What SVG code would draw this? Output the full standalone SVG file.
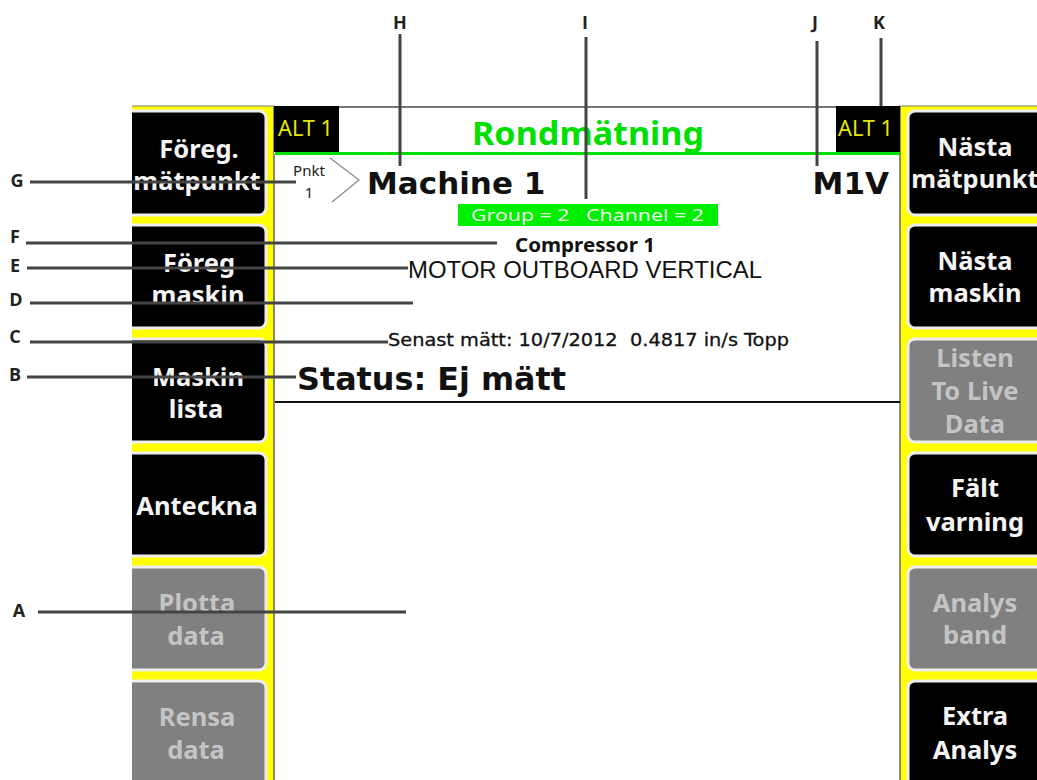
<svg xmlns="http://www.w3.org/2000/svg" width="1037" height="780" viewBox="0 0 1037 780">
<style>
.b{stroke:#eee;stroke-width:3}
.on{fill:#000}
.off{fill:#808080}
text{font-family:"DejaVu Sans",sans-serif}
.bt{font-family:"Noto Sans",sans-serif;font-size:25.500px;font-weight:bold;text-anchor:middle;fill:#f4f4f4}
.bl{font-family:"Noto Sans",sans-serif;font-size:25.500px;font-weight:bold;text-anchor:middle;fill:#c4c4c4}
.lab{font-size:18px;font-weight:bold;fill:#222;text-anchor:middle;font-family:"Open Sans",sans-serif}
.c{stroke:#444;stroke-width:3;fill:none}
.alt{font-size:21px;fill:#e6e600;font-family:"Noto Sans",sans-serif}
</style>
<rect width="1037" height="780" fill="#fff"/>
<g id="frame">
<rect x="132" y="106" width="142" height="674" fill="#ff0"/>
<rect x="900" y="106" width="137" height="674" fill="#ff0"/>
<path d="M132 106H274M899 106H1037" stroke="#777" stroke-width="1"/>
<path d="M274 106V780M900 106V780" stroke="#666" stroke-width="1.500"/>
<rect x="274" y="106" width="626" height="48" fill="#fff"/>
<path d="M274 107H900" stroke="#777" stroke-width="2"/>
<rect x="274" y="106" width="65" height="46" fill="#000"/>
<rect x="836" y="106" width="64" height="46" fill="#000"/>
<path d="M275 153.500H900" stroke="#00e000" stroke-width="3"/>
<path d="M275 402H900" stroke="#111" stroke-width="2"/>
</g>
<g id="left-buttons">
<g id="btn-foreg-matpunkt"><rect class="b on" x="120" y="111" width="146" height="104" rx="7"/><text class="bt" x="199" y="158">Föreg.</text><text class="bt" x="197" y="190">mätpunkt</text></g>
<g id="btn-foreg-maskin"><rect class="b on" x="120" y="225" width="146" height="103" rx="7"/><text class="bt" x="199" y="272">Föreg</text><text class="bt" x="198" y="304">maskin</text></g>
<g id="btn-maskin-lista"><rect class="b on" x="120" y="339" width="146" height="103" rx="7"/><text class="bt" x="198" y="386">Maskin</text><text class="bt" x="196" y="418">lista</text></g>
<g id="btn-anteckna"><rect class="b on" x="120" y="453" width="146" height="103" rx="7"/><text class="bt" x="197" y="515">Anteckna</text></g>
<g id="btn-plotta"><rect class="b off" x="120" y="567" width="146" height="103" rx="7"/><text class="bl" x="197" y="612">Plotta</text><text class="bl" x="196" y="645">data</text></g>
<g id="btn-rensa"><rect class="b off" x="120" y="681" width="146" height="110" rx="7"/><text class="bl" x="197" y="726">Rensa</text><text class="bl" x="196" y="759">data</text></g>
<rect id="left-edge" x="0" y="100" width="132" height="680" fill="#fff"/>
</g>
<g id="right-buttons">
<g id="btn-nasta-matpunkt"><rect class="b on" x="908" y="111" width="140" height="104" rx="7"/><text class="bt" x="975" y="156">Nästa</text><text class="bt" x="975" y="188">mätpunkt</text></g>
<g id="btn-nasta-maskin"><rect class="b on" x="908" y="225" width="140" height="103" rx="7"/><text class="bt" x="975" y="270">Nästa</text><text class="bt" x="975" y="302">maskin</text></g>
<g id="btn-listen"><rect class="b off" x="908" y="339" width="140" height="103" rx="7"/><text class="bl" x="975" y="367">Listen</text><text class="bl" x="975" y="400">To Live</text><text class="bl" x="975" y="433">Data</text></g>
<g id="btn-falt"><rect class="b on" x="908" y="453" width="140" height="103" rx="7"/><text class="bt" x="975" y="497">Fält</text><text class="bt" x="975" y="531">varning</text></g>
<g id="btn-analys-band"><rect class="b off" x="908" y="567" width="140" height="103" rx="7"/><text class="bl" x="975" y="612">Analys</text><text class="bl" x="975" y="644">band</text></g>
<g id="btn-extra"><rect class="b on" x="908" y="681" width="140" height="110" rx="7"/><text class="bt" x="975" y="725">Extra</text><text class="bt" x="975" y="759">Analys</text></g>
</g>
<g id="screen">
<text class="alt" x="278" y="136" textLength="55" lengthAdjust="spacingAndGlyphs">ALT 1</text>
<text class="alt" x="838" y="136" textLength="55" lengthAdjust="spacingAndGlyphs">ALT 1</text>
<text x="472" y="145" font-size="33" font-weight="bold" fill="#00e000" style="font-family:'Noto Sans',sans-serif" textLength="232" lengthAdjust="spacingAndGlyphs">Rondmätning</text>
<text x="309" y="176" font-size="15" text-anchor="middle" fill="#222" style="font-family:'Noto Sans',sans-serif">Pnkt</text>
<text x="309" y="198" font-size="15" text-anchor="middle" fill="#222" style="font-family:'Noto Sans',sans-serif">1</text>
<path d="M330 158L359 180L332 202" fill="none" stroke="#888" stroke-width="1.200"/>
<text x="367" y="194" font-size="31" font-weight="bold" fill="#111">Machine 1</text>
<text x="889" y="194" font-size="31" font-weight="bold" fill="#111" text-anchor="end">M1V</text>
<rect x="458" y="204" width="260" height="22" fill="#00ee00"/>
<text x="471" y="221" font-size="17" fill="#e8ffe8" style="font-family:'Noto Sans',sans-serif;white-space:pre" textLength="233" lengthAdjust="spacingAndGlyphs">Group = 2   Channel = 2</text>
<text x="515" y="252" font-size="20" font-weight="bold" fill="#111" style="font-family:'Noto Sans',sans-serif" textLength="140" lengthAdjust="spacingAndGlyphs">Compressor 1</text>
<text x="408" y="278" font-size="23.500" fill="#111" style="font-family:'Liberation Sans',sans-serif" textLength="354" lengthAdjust="spacingAndGlyphs">MOTOR OUTBOARD VERTICAL</text>
<text x="388" y="346" font-size="18" fill="#111" stroke="#111" stroke-width="0.300" style="white-space:pre" textLength="401" lengthAdjust="spacingAndGlyphs">Senast mätt: 10/7/2012  0.4817 in/s Topp</text>
<text x="297" y="390" font-size="32" font-weight="bold" fill="#111" textLength="269" lengthAdjust="spacingAndGlyphs">Status: Ej mätt</text>
</g>
<g id="connectors">
<path class="c" d="M38 612H406M27 377H296M30 342H388M30 303H413M27 268H408M26 243H497M30 182H296M400 34V166M586 37V199M817 41V166M881 38V106"/>
</g>
<g id="labels">
<text class="lab" x="19" y="617">A</text>
<text class="lab" x="15" y="381">B</text>
<text class="lab" x="15" y="343">C</text>
<text class="lab" x="16" y="306">D</text>
<text class="lab" x="15" y="272">E</text>
<text class="lab" x="15" y="243">F</text>
<text class="lab" x="17" y="187">G</text>
<text class="lab" x="400" y="29">H</text>
<text class="lab" x="585" y="29">I</text>
<text class="lab" x="815" y="29">J</text>
<text class="lab" x="879" y="29">K</text>
</g>
</svg>
